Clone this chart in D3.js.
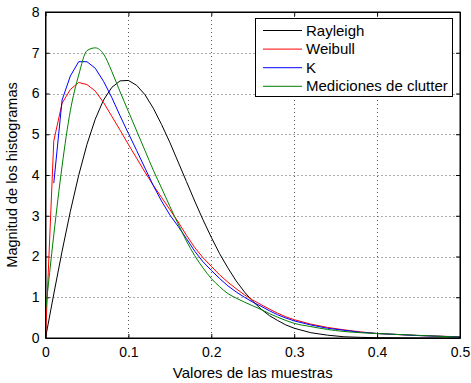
<!DOCTYPE html>
<html><head><meta charset="utf-8">
<script src="https://cdn.jsdelivr.net/npm/d3@7"></script>
<style>body{margin:0;background:#fff}svg{display:block}text{font-family:"Liberation Sans",Arial,sans-serif}</style>
</head><body>
<svg id="c" width="471" height="383"></svg>
<script>
const xs = [0,0.01,0.02,0.03,0.04,0.05,0.06,0.07,0.08,0.09,0.10,0.11,0.12,0.13,0.14,0.15,0.16,0.17,0.18,0.19,0.20,0.21,0.22,0.23,0.24,0.25,0.26,0.27,0.28,0.29,0.30,0.32,0.34,0.36,0.38,0.40,0.45,0.50];
const rayleigh = [0,1.08,2.13,3.11,3.99,4.75,5.37,5.84,6.15,6.31,6.32,6.20,5.97,5.64,5.24,4.80,4.32,3.84,3.36,2.90,2.47,2.07,1.72,1.40,1.13,0.90,0.71,0.55,0.43,0.32,0.24,0.13,0.07,0.03,0.016,0.007,0.001,0];
const weibull = [0,4.84,5.76,6.10,6.27,6.22,6.06,5.78,5.44,5.10,4.75,4.41,4.07,3.75,3.45,3.15,2.85,2.52,2.22,1.97,1.76,1.55,1.37,1.21,1.06,0.93,0.82,0.71,0.61,0.52,0.45,0.34,0.26,0.20,0.15,0.11,0.06,0.03];
const kdist = [null,3.80,5.84,6.43,6.78,6.78,6.62,6.30,5.90,5.45,5.02,4.60,4.17,3.74,3.36,3.02,2.74,2.44,2.13,1.87,1.66,1.46,1.28,1.13,1.00,0.88,0.78,0.67,0.57,0.49,0.42,0.32,0.24,0.19,0.14,0.11,0.06,0.025];
const clutter = [0.65,2.53,4.22,5.58,6.45,7.05,7.12,6.97,6.54,6.04,5.56,5.08,4.60,4.12,3.68,3.23,2.80,2.38,2.02,1.72,1.46,1.26,1.09,0.98,0.88,0.79,0.70,0.60,0.51,0.43,0.36,0.28,0.21,0.16,0.13,0.11,0.065,0.02];
const seriesNames = ["Rayleigh","Weibull","K","Mediciones de clutter"];
const seriesColors = ["#000000","#ff0000","#0000ff","#008000"];
const xTicks = [0,0.1,0.2,0.3,0.4,0.5];
const yTicks = [0,1,2,3,4,5,6,7,8];

const svg = d3.select("#c");
const L=45.5, R=460, T=12, B=338;
const x = d3.scaleLinear().domain([0,0.5]).range([L,R]);
const y = d3.scaleLinear().domain([0,8]).range([B,T]);

// grid
const g = svg.append("g");
g.selectAll(".gx").data(xTicks.slice(1,-1)).enter().append("line")
  .attr("x1",d=>Math.round(x(d))+0.5).attr("x2",d=>Math.round(x(d))+0.5).attr("y1",T).attr("y2",B)
  .attr("stroke","#555").attr("stroke-width",1).attr("stroke-dasharray","1,3");
g.selectAll(".gy").data(yTicks.slice(1,-1)).enter().append("line")
  .attr("y1",d=>Math.round(y(d))+0.5).attr("y2",d=>Math.round(y(d))+0.5).attr("x1",L).attr("x2",R)
  .attr("stroke","#555").attr("stroke-width",1).attr("stroke-dasharray","1,3");

// axes
const fmt = d=> d===0?"0":String(d);
svg.append("g").attr("transform",`translate(0,${B})`)
  .call(d3.axisBottom(x).tickValues(xTicks).tickFormat(fmt).tickSizeInner(-4).tickSizeOuter(0).tickPadding(9));
svg.append("g").attr("transform",`translate(${L},0)`)
  .call(d3.axisLeft(y).tickValues(yTicks).tickFormat(fmt).tickSizeInner(-4).tickSizeOuter(0).tickPadding(6));
svg.append("g").attr("transform",`translate(0,${T})`)
  .call(d3.axisTop(x).tickValues(xTicks).tickFormat("").tickSizeInner(-4).tickSizeOuter(0));
svg.append("g").attr("transform",`translate(${R},0)`)
  .call(d3.axisRight(y).tickValues(yTicks).tickFormat("").tickSizeInner(-4).tickSizeOuter(0));
svg.selectAll(".domain").attr("stroke","#000").attr("stroke-width",1);
svg.selectAll(".tick line").attr("stroke","#000");
svg.selectAll(".tick text").attr("fill","#000").style("font-size","14px").style("font-family","'Liberation Sans',Arial,sans-serif");

// curves
const data = [rayleigh,weibull,kdist,clutter];
const curves = [d3.curveLinear,d3.curveLinear,d3.curveLinear,d3.curveMonotoneX];
data.forEach((s,i)=>{
  const line = d3.line().defined(d=>d[1]!==null).x(d=>x(d[0])).y(d=>y(d[1])).curve(curves[i]);
  svg.append("path").datum(xs.map((v,j)=>[v,s[j]]))
    .attr("d",line).attr("fill","none").attr("stroke",seriesColors[i]).attr("stroke-width",1);
});

// box
svg.append("rect").attr("x",L).attr("y",T).attr("width",R-L).attr("height",B-T)
  .attr("fill","none").attr("stroke","#000").attr("stroke-width",1);

// labels
svg.append("text").attr("x",(L+R)/2).attr("y",378).attr("text-anchor","middle")
  .style("font-size","15px").text("Valores de las muestras");
svg.append("text").attr("transform",`translate(17,${(T+B)/2}) rotate(-90)`).attr("text-anchor","middle")
  .style("font-size","14.5px").text("Magnitud de los histogramas");

// legend
const lg = svg.append("g");
lg.append("rect").attr("x",255.5).attr("y",18.5).attr("width",197).attr("height",78)
  .attr("fill","#fff").attr("stroke","#000").attr("stroke-width",1);
seriesNames.forEach((n,i)=>{
  const yy = 30.5 + i*18.6;
  lg.append("line").attr("x1",263).attr("x2",302).attr("y1",yy).attr("y2",yy)
    .attr("stroke",seriesColors[i]).attr("stroke-width",1);
  lg.append("text").attr("x",306).attr("y",yy+5).style("font-size","15px").text(n);
});
</script>
</body></html>
